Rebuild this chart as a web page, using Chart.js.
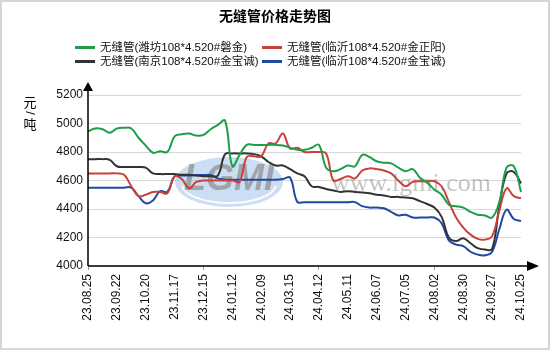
<!DOCTYPE html>
<html>
<head>
<meta charset="utf-8">
<script src="https://cdn.jsdelivr.net/npm/chart.js@4/dist/chart.umd.min.js"></script>
<style>
html,body{margin:0;padding:0;background:#fff;}
#wrap{width:550px;height:350px;position:relative;}
</style>
</head>
<body>
<div id="wrap"><canvas id="c"></canvas></div>
<script>
const chartTitle = '无缝管价格走势图';
const unitLabel = ['元','/','吨'];
const categories = [
'23.08.25','23.09.01','23.09.08','23.09.15','23.09.22','23.09.28','23.10.08','23.10.13',
'23.10.20','23.10.27','23.11.03','23.11.10','23.11.17','23.11.24','23.12.01','23.12.08',
'23.12.15','23.12.22','23.12.29','24.01.05','24.01.12','24.01.19','24.01.26','24.02.02',
'24.02.09','24.02.23','24.03.01','24.03.08','24.03.15','24.03.22','24.03.29','24.04.03',
'24.04.12','24.04.19','24.04.26','24.04.30','24.05.11','24.05.17','24.05.24','24.05.31',
'24.06.07','24.06.14','24.06.21','24.06.28','24.07.05','24.07.12','24.07.19','24.07.26',
'24.08.02','24.08.09','24.08.16','24.08.23','24.08.30','24.09.06','24.09.13','24.09.20',
'24.09.27','24.09.30','24.10.11','24.10.18','24.10.25'
];
const seriesNames = [
'无缝管(潍坊108*4.520#磐金)',
'无缝管(临沂108*4.520#金正阳)',
'无缝管(南京108*4.520#金宝诚)',
'无缝管(临沂108*4.520#金宝诚)'
];
const weifangPanjin = [
4945,4965,4960,4935,4965,4970,4965,4900,4845,4795,4805,4800,4910,4925,4930,4915,
4920,4960,4990,5020,4700,4780,4850,4850,4850,4850,4850,4845,4830,4815,4815,4830,
4850,4690,4665,4680,4705,4700,4780,4765,4735,4725,4720,4690,4665,4680,4620,4585,
4535,4500,4430,4420,4410,4380,4360,4355,4340,4450,4690,4700,4520
];
const linyiJinzhengyang = [
4650,4650,4650,4650,4650,4640,4560,4490,4500,4520,4520,4510,4630,4610,4545,4590,
4600,4600,4600,4600,4600,4590,4765,4770,4770,4860,4860,4930,4825,4830,4800,4800,
4800,4790,4600,4610,4630,4615,4670,4685,4680,4670,4650,4600,4560,4590,4595,4595,
4595,4560,4450,4340,4270,4220,4190,4185,4210,4390,4545,4490,4475
];
const nanjingJinbaocheng = [
4750,4750,4750,4745,4700,4695,4695,4695,4690,4650,4645,4645,4645,4640,4640,4635,
4630,4630,4635,4785,4790,4790,4790,4785,4770,4730,4705,4705,4680,4650,4630,4560,
4555,4540,4530,4520,4525,4520,4515,4510,4500,4495,4485,4485,4480,4475,4455,4435,
4410,4345,4200,4175,4195,4160,4125,4115,4120,4420,4650,4660,4580
];
const linyiJinbaocheng = [
4550,4550,4550,4550,4550,4550,4550,4490,4440,4460,4525,4520,4630,4635,4635,4638,
4638,4638,4615,4605,4605,4605,4605,4605,4605,4605,4605,4610,4620,4450,4448,4448,
4448,4448,4448,4448,4448,4448,4420,4410,4410,4405,4380,4355,4360,4340,4340,4340,
4340,4300,4180,4150,4140,4100,4080,4075,4100,4260,4395,4330,4315
];
const yTicks = [4000,4200,4400,4600,4800,5000,5200];
const colors = ['#1f9e4a','#c9413b','#333333','#1f4a9e'];

const FONT = '"Liberation Sans", Arial, "Noto Sans CJK SC", sans-serif';
const CJK = '"Liberation Sans", "Noto Sans CJK SC", sans-serif';

const decor = {
  id: 'decor',
  beforeDatasetsDraw(chart) {
    const ctx = chart.ctx;
    ctx.save();
    ctx.fillStyle = 'rgba(170,200,236,0.6)';
    ctx.beginPath();
    ctx.ellipse(229, 182, 54, 25, 0, 0, Math.PI * 2);
    ctx.fill();
    ctx.strokeStyle = 'rgba(255,255,255,0.9)';
    ctx.lineWidth = 2;
    ctx.beginPath();
    ctx.ellipse(229, 184, 47, 19, 0, 0.1, Math.PI - 0.1);
    ctx.stroke();
    ctx.fillStyle = 'rgba(150,150,150,0.8)';
    ctx.font = 'bold italic 36px "Liberation Sans", Arial, sans-serif';
    ctx.textAlign = 'center';
    ctx.textBaseline = 'middle';
    ctx.fillText('LGMI', 229, 180);
    ctx.fillStyle = 'rgba(150,150,150,0.55)';
    ctx.font = '26px "Liberation Serif", "DejaVu Serif", serif';
    ctx.fillText('www.lgmi.com', 411, 184);
    ctx.restore();
  },
  afterDraw(chart) {
    const ctx = chart.ctx;
    const a = chart.chartArea;
    ctx.save();
    ctx.strokeStyle = '#d6d6d6';
    ctx.lineWidth = 2;
    ctx.strokeRect(1, 1, chart.width - 2, chart.height - 2);
    ctx.fillStyle = '#000';
    ctx.font = 'bold 14px ' + CJK;
    ctx.textAlign = 'center';
    ctx.textBaseline = 'middle';
    ctx.fillText(chartTitle, 275, 17);
    const pos = [[75, 47.5], [262, 47.5], [75, 61.5], [262, 61.5]];
    ctx.font = '11.5px ' + CJK;
    ctx.textAlign = 'left';
    chart.data.datasets.forEach((ds, i) => {
      const [x, y] = pos[i];
      ctx.strokeStyle = ds.borderColor;
      ctx.lineWidth = 3;
      ctx.beginPath();
      ctx.moveTo(x, y);
      ctx.lineTo(x + 20, y);
      ctx.stroke();
      ctx.fillStyle = '#111';
      ctx.fillText(ds.label, x + 25, y);
    });
    ctx.strokeStyle = '#000';
    ctx.fillStyle = '#000';
    ctx.lineWidth = 1.5;
    ctx.beginPath();
    ctx.moveTo(a.left, a.bottom);
    ctx.lineTo(a.left, 90);
    ctx.moveTo(a.left, a.bottom);
    ctx.lineTo(528, a.bottom);
    ctx.stroke();
    ctx.beginPath();
    ctx.moveTo(a.left, 82);
    ctx.lineTo(a.left - 5, 91);
    ctx.lineTo(a.left + 5, 91);
    ctx.closePath();
    ctx.fill();
    ctx.beginPath();
    ctx.moveTo(539, a.bottom);
    ctx.lineTo(527, a.bottom - 5);
    ctx.lineTo(527, a.bottom + 5);
    ctx.closePath();
    ctx.fill();
    ctx.font = '13px ' + CJK;
    ctx.textAlign = 'center';
    ctx.textBaseline = 'middle';
    ctx.fillStyle = '#000';
    ctx.fillText(unitLabel[0], 30, 103);
    ctx.save();
    ctx.translate(30, 113);
    ctx.rotate(Math.PI / 2);
    ctx.fillText(unitLabel[1], 0, 0);
    ctx.restore();
    ctx.fillText(unitLabel[2], 30, 125);
    ctx.restore();
  }
};

const seriesData = [weifangPanjin, linyiJinzhengyang, nanjingJinbaocheng, linyiJinbaocheng];

new Chart(document.getElementById('c'), {
  type: 'line',
  data: {
    labels: categories,
    datasets: seriesData.map((d, i) => ({
      label: seriesNames[i],
      data: d,
      borderColor: colors[i],
      backgroundColor: colors[i],
      borderWidth: 2,
      pointRadius: 0,
      pointHoverRadius: 0,
      fill: false,
      tension: 0.4
    }))
  },
  options: {
    responsive: true,
    maintainAspectRatio: false,
    animation: false,
    devicePixelRatio: 1,
    layout: { padding: { top: 95, right: 29, bottom: 0, left: 0 } },
    plugins: {
      legend: { display: false },
      title: { display: false },
      tooltip: { enabled: false }
    },
    scales: {
      x: {
        type: 'category',
        offset: false,
        border: { display: false },
        grid: {
          drawOnChartArea: false,
          drawTicks: true,
          tickLength: 4,
          tickColor: (c) => (c.index % 4 === 0 ? '#9a9a9a' : 'rgba(0,0,0,0)')
        },
        ticks: {
          autoSkip: false,
          maxRotation: 90,
          minRotation: 90,
          padding: 4,
          color: '#111',
          font: { size: 12, family: FONT },
          callback: function (v, i) { return i % 4 === 0 ? categories[i] : null; }
        },
        afterFit: (s) => { s.height = 84; }
      },
      y: {
        min: yTicks[0],
        max: yTicks[yTicks.length - 1],
        border: { display: false },
        grid: { color: '#d8d8d8', lineWidth: 1, drawTicks: false },
        afterBuildTicks: (s) => { s.ticks = yTicks.map(v => ({ value: v })); },
        ticks: {
          padding: 5,
          color: '#111',
          font: { size: 12, family: FONT },
          callback: (v) => String(v)
        },
        afterFit: (s) => { s.width = 88; }
      }
    }
  },
  plugins: [decor]
});
</script>
</body>
</html>
